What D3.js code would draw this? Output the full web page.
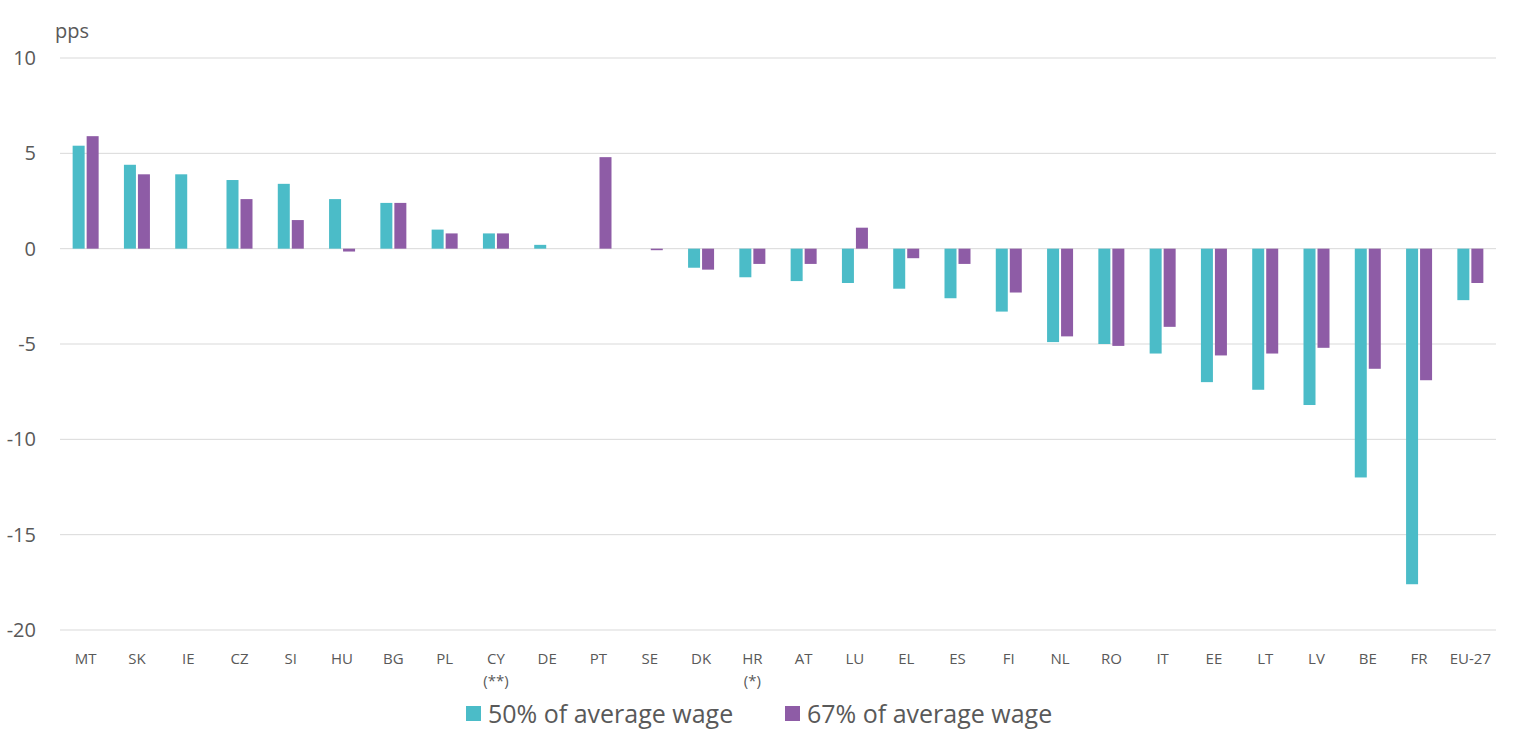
<!DOCTYPE html>
<html>
<head>
<meta charset="utf-8">
<script src="https://cdn.jsdelivr.net/npm/d3@7"></script>
<style>
body { margin: 0; background: #fff; font-family: "Open Sans", "Noto Sans", sans-serif; }
</style>
</head>
<body>
<svg id="chart" width="1524" height="751"></svg>
<script>
// Categories and their second-line notes
var countries = ["MT","SK","IE","CZ","SI","HU","BG","PL","CY","DE","PT","SE","DK","HR","AT","LU","EL","ES","FI","NL","RO","IT","EE","LT","LV","BE","FR","EU-27"];
var notes = {"CY": "(**)", "HR": "(*)"};

// Series values (pps)
var wage50 = [5.4,4.4,3.9,3.6,3.4,2.6,2.4,1.0,0.8,0.2,0,0,-1.0,-1.5,-1.7,-1.8,-2.1,-2.6,-3.3,-4.9,-5.0,-5.5,-7.0,-7.4,-8.2,-12.0,-17.6,-2.7];
var wage67 = [5.9,3.9,0,2.6,1.5,-0.15,2.4,0.8,0.8,0,4.8,-0.08,-1.1,-0.8,-0.8,1.1,-0.5,-0.8,-2.3,-4.6,-5.1,-4.1,-5.6,-5.5,-5.2,-6.3,-6.9,-1.8];

var yTicks = [10,5,0,-5,-10,-15,-20];

var svg = d3.select("#chart");
var mLeft = 60, mRight = 1496, mTop = 58, mBottom = 630;

var x = d3.scaleBand().domain(countries).range([mLeft, mRight]);
var y = d3.scaleLinear().domain([-20, 10]).range([mBottom, mTop]);

// Gridlines
svg.selectAll(".grid").data(yTicks).enter().append("line")
    .attr("x1", mLeft).attr("x2", mRight)
    .attr("y1", function(d){ return y(d); }).attr("y2", function(d){ return y(d); })
    .attr("stroke", "#d9d9d9").attr("stroke-width", 1);

// Y tick labels
svg.selectAll(".ylab").data(yTicks).enter().append("text")
    .attr("x", 36).attr("y", function(d){ return y(d) + 7; })
    .attr("text-anchor", "end").attr("font-size", 20).attr("fill", "#595959")
    .text(function(d){ return d; });

svg.append("text").attr("x", 55).attr("y", 38).attr("font-size", 20).attr("fill", "#595959").text("pps");

var bw = 12;
function drawSeries(values, offset, color){
    svg.selectAll(null).data(values).enter().append("rect")
        .attr("x", function(d, i){ return x(countries[i]) + x.bandwidth() / 2 + offset; })
        .attr("width", bw)
        .attr("y", function(d){ return y(Math.max(0, d)); })
        .attr("height", function(d){ return Math.abs(y(d) - y(0)); })
        .attr("fill", color);
}
drawSeries(wage50, -13, "#4bbcc8");
drawSeries(wage67, 1, "#8e5ca6");

// X labels
countries.forEach(function(c){
    var cx = x(c) + x.bandwidth() / 2;
    svg.append("text").attr("x", cx).attr("y", 664).attr("text-anchor", "middle")
        .attr("font-size", 15).attr("fill", "#595959").text(c);
    if (notes[c]) {
        svg.append("text").attr("x", cx).attr("y", 686).attr("text-anchor", "middle")
            .attr("font-size", 15).attr("fill", "#595959").text(notes[c]);
    }
});

// Legend
var legend = [["50% of average wage", "#4bbcc8", 466], ["67% of average wage", "#8e5ca6", 785]];
legend.forEach(function(l){
    svg.append("rect").attr("x", l[2]).attr("y", 706).attr("width", 15).attr("height", 15).attr("fill", l[1]);
    svg.append("text").attr("x", l[2] + 22).attr("y", 723).attr("font-size", 25).attr("fill", "#595959").text(l[0]);
});
</script>
</body>
</html>
